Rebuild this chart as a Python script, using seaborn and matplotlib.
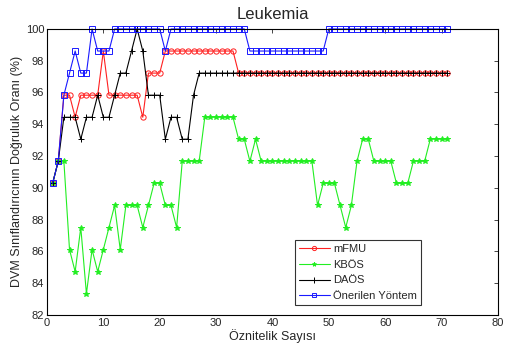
import numpy as np
import pandas as pd
import matplotlib
matplotlib.use('Agg')
import matplotlib.pyplot as plt
import seaborn as sns

sns.set_style('white')
plt.rcParams['font.family'] = ['Liberation Sans', 'DejaVu Sans']

# x values: number of features
features = list(range(1, 72))

mfmu = ([90.28, 91.67, 95.83, 95.83, 94.44, 95.83, 95.83, 95.83, 95.83, 98.61]
        + [95.83] * 6 + [94.44] + [97.22] * 3 + [98.61] * 13 + [97.22] * 38)

kbos = ([90.28, 91.67, 91.67, 86.11, 84.72, 87.5, 83.33, 86.11, 84.72, 86.11,
         87.5, 88.89, 86.11, 88.89, 88.89, 88.89, 87.5, 88.89, 90.28, 90.28,
         88.89, 88.89, 87.5, 91.67, 91.67, 91.67, 91.67]
        + [94.44] * 6 + [93.06, 93.06, 91.67, 93.06] + [91.67] * 10
        + [88.89, 90.28, 90.28, 90.28, 88.89, 87.5, 88.89, 91.67, 93.06, 93.06]
        + [91.67] * 4 + [90.28] * 3 + [91.67] * 3 + [93.06] * 4)

daos = ([90.28, 91.67, 94.44, 94.44, 94.44, 93.06, 94.44, 94.44, 95.83, 94.44,
         94.44, 95.83, 97.22, 97.22, 98.61, 100, 98.61, 95.83, 95.83, 95.83,
         93.06, 94.44, 94.44, 93.06, 93.06, 95.83] + [97.22] * 45)

onerilen = ([90.28, 91.67, 95.83, 97.22, 98.61, 97.22, 97.22, 100, 98.61, 98.61,
             98.61] + [100] * 9 + [98.61] + [100] * 14 + [98.61] * 14 + [100] * 22)

series_names = ['mFMU', 'KBÖS', 'DAÖS', 'Önerilen Yöntem']
series_values = [mfmu, kbos, daos, onerilen]

colors = ['#ff2020', '#22ee22', '#000000', '#1a1aff']
markers = ['o', '*', '+', 's']
msizes = [3.8, 3.8, 5, 3.8]
faces = ['none', '#22ee22', 'none', 'none']

fig = plt.figure(figsize=(5.05, 3.53), dpi=100)
ax = fig.add_axes([0.093, 0.108, 0.893, 0.81])

for name, vals, c, m, ms, fc in zip(series_names, series_values, colors, markers, msizes, faces):
    df = pd.DataFrame({'x': features, 'y': vals})
    sns.lineplot(data=df, x='x', y='y', ax=ax, color=c, marker=m, markersize=ms,
                 markerfacecolor=fc, markeredgecolor=c, markeredgewidth=0.7,
                 linewidth=0.8, label=name, clip_on=False)

ax.set_xlim(0, 80)
ax.set_ylim(82, 100)
ax.set_xticks(range(0, 81, 10))
ax.set_yticks(range(82, 101, 2))
ax.tick_params(direction='in', length=3, labelsize=8, top=True, right=True,
               width=0.6, pad=2)
for s in ax.spines.values():
    s.set_linewidth(0.8)
    s.set_color('black')
    s.set_visible(True)
ax.set_title('Leukemia', fontsize=12, pad=7)
ax.set_xlabel('Öznitelik Sayısı', fontsize=9, labelpad=1)
ax.set_ylabel('DVM Sınıflandırıcının Doğruluk Oranı (%)', fontsize=9, labelpad=2)

leg = ax.legend(loc='lower left', bbox_to_anchor=(0.55, 0.035), fontsize=8,
                frameon=True, fancybox=False, borderpad=0.35, labelspacing=0.5,
                handlelength=2.8, handletextpad=0.3, borderaxespad=0,
                markerscale=0.8)
leg.get_frame().set_edgecolor('black')
leg.get_frame().set_linewidth(0.8)

fig.savefig('out.png', dpi=100)
